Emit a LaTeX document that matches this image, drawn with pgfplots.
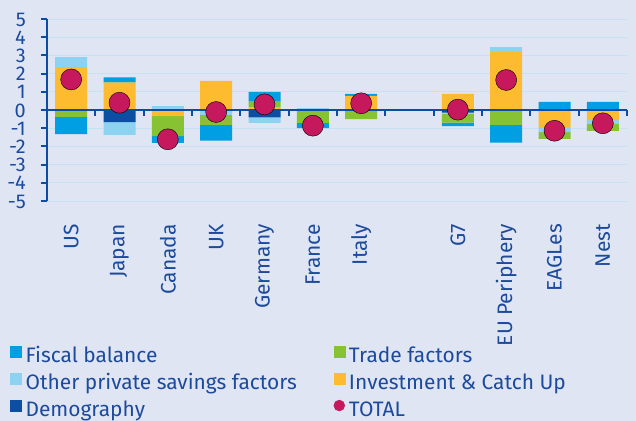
\documentclass[border=0pt]{standalone}
\usepackage{fontspec}
\setmainfont{Fira Sans}
\usepackage{pgfplots}
\pgfplotsset{compat=1.18}
\usepackage{pgfplotstable}

\definecolor{bgc}{HTML}{DFE5F3}
\definecolor{gridc}{HTML}{C6E1F4}
\definecolor{axc}{HTML}{0B4DA2}
\definecolor{txtc}{HTML}{1C4A9C}
\definecolor{fiscal}{HTML}{009EE2}
\definecolor{trade}{HTML}{86C232}
\definecolor{other}{HTML}{8ED2F2}
\definecolor{invest}{HTML}{FDBB2F}
\definecolor{demog}{HTML}{0C4EA1}
\definecolor{totc}{HTML}{C6185C}

% positive parts of each factor
\pgfplotstableread{
x  D     I     O     T     F
0  0     2.36  0.55  0     0
1  0     1.50  0     0.02  0.27
2  0     0     0.22  0     0
3  0     1.60  0     0     0
4  0     0.16  0     0.30  0.53
5  0     0     0.10  0     0
6  0     0.77  0     0     0.11
8  0     0.88  0     0     0
9  0     3.20  0.26  0     0
10 0     0     0     0     0.44
11 0     0     0     0     0.44
}\postab

% negative parts of each factor
\pgfplotstableread{
x  D      I      O      T      F
0  0      0      0      -0.38  -0.94
1  -0.66  0      -0.71  0      0
2  0      -0.33  0      -1.10  -0.37
3  0      0      -0.27  -0.55  -0.86
4  -0.40  0      -0.31  0      0
5  0      0      0      -0.71  -0.28
6  0      0      -0.05  -0.45  0
8  -0.15  0      -0.05  -0.50  -0.18
9  0      0      0      -0.82  -0.97
10 0      -0.93  -0.28  -0.37  0
11 0      -0.55  -0.22  -0.38  0
}\negtab

\pgfplotstableread{
x  tot
0  1.68
1  0.40
2  -1.61
3  -0.11
4  0.31
5  -0.86
6  0.37
8  0.02
9  1.65
10 -1.14
11 -0.73
}\tottab

\newcommand\lfont{\fontsize{21}{24}\selectfont}
\newcommand\yfont{\fontsize{20}{22}\selectfont}

\pgfplotsset{
  base/.style={
    scale only axis, width=580bp, height=182bp,
    at={(47bp,-201bp)}, anchor=south west,
    xmin=-0.5, xmax=11.5, ymin=-5, ymax=5,
  },
}

\begin{document}
\begin{tikzpicture}
\useasboundingbox (0,0) rectangle (636bp,-421bp);
\fill[bgc] (0,0) rectangle (636bp,-421bp);

% Axis 1: grid, y axis, category labels, positive stacks, legend
\begin{axis}[base,
  axis y line*=left, axis x line*=bottom,
  x axis line style={draw=none},
  y axis line style={-, line width=2.2bp, draw=axc},
  ytick={-5,-4,...,5},
  ymajorgrids, grid style={gridc, line width=0.8bp},
  ytick align=outside, major tick length=6bp,
  y tick style={axc, line width=2bp},
  yticklabel style={font=\yfont, text=txtc, inner sep=0pt, text height=14bp, text depth=0bp},
  yticklabel shift=15bp,
  /pgf/number format/assume math mode=true,
  xtick={0,1,2,3,4,5,6,8,9,10,11},
  xticklabels={US,Japan,Canada,UK,Germany,France,Italy,G7,EU Periphery,EAGLes,Nest},
  x tick style={draw=none},
  xticklabel style={rotate=90, anchor=east, font=\lfont, text=txtc, inner sep=0pt},
  xticklabel shift=23bp,
  ybar stacked, bar width=32bp,
  legend columns=2,
  legend cell align=left,
  legend style={at={(-0.0638,-0.798)}, anchor=north west, draw=none, fill=none,
    font=\lfont, text=txtc, row sep=5.5bp, column sep=0pt, inner sep=0pt,
    nodes={inner sep=0pt, text height=14bp, text depth=5bp}},
]
\addplot[forget plot, fill=demog, draw=none] table[x=x, y=D] {\postab};
\addplot[forget plot, fill=invest, draw=none] table[x=x, y=I] {\postab};
\addplot[forget plot, fill=other, draw=none] table[x=x, y=O] {\postab};
\addplot[forget plot, fill=trade, draw=none] table[x=x, y=T] {\postab};
\addplot[forget plot, fill=fiscal, draw=none] table[x=x, y=F] {\postab};

\addlegendimage{legend image code/.code={\fill[fiscal] (0bp,0.5bp) rectangle (11bp,11.5bp); \path (15bp,0bp);}}
\addlegendentry{\makebox[308bp][l]{Fiscal balance}}
\addlegendimage{legend image code/.code={\fill[trade] (0bp,0.5bp) rectangle (11bp,11.5bp); \path (15bp,0bp);}}
\addlegendentry{Trade factors}
\addlegendimage{legend image code/.code={\fill[other] (0bp,0.5bp) rectangle (11bp,11.5bp); \path (15bp,0bp);}}
\addlegendentry{\makebox[308bp][l]{Other private savings factors}}
\addlegendimage{legend image code/.code={\fill[invest] (0bp,0.5bp) rectangle (11bp,11.5bp); \path (15bp,0bp);}}
\addlegendentry{Investment \& Catch Up}
\addlegendimage{legend image code/.code={\fill[demog] (0bp,0.5bp) rectangle (11bp,11.5bp); \path (15bp,0bp);}}
\addlegendentry{\makebox[308bp][l]{Demography}}
\addlegendimage{legend image code/.code={\fill[totc] (5.5bp,6bp) circle (5.5bp); \path (15bp,0bp);}}
\addlegendentry{TOTAL}
\end{axis}

% Axis 2: negative stacks and the zero line with its ticks
\begin{axis}[base, axis on top,
  axis x line=middle, axis y line=none,
  x axis line style={-, line width=2.6bp, draw=axc},
  xtick={0.5,1.5,...,11.5}, xticklabels={},
  xtick align=outside, major tick length=6bp,
  x tick style={axc, line width=2bp},
  ytick=\empty,
  ybar stacked, bar width=32bp,
]
\addplot[fill=demog, draw=none] table[x=x, y=D] {\negtab};
\addplot[fill=invest, draw=none] table[x=x, y=I] {\negtab};
\addplot[fill=other, draw=none] table[x=x, y=O] {\negtab};
\addplot[fill=trade, draw=none] table[x=x, y=T] {\negtab};
\addplot[fill=fiscal, draw=none] table[x=x, y=F] {\negtab};
\end{axis}

% Axis 3: totals
\begin{axis}[base, hide axis, clip=false]
\addplot[only marks, mark=*, mark size=10.5bp, mark options={fill=totc, draw=none}]
  table[x=x, y=tot] {\tottab};
\end{axis}
\end{tikzpicture}
\end{document}
